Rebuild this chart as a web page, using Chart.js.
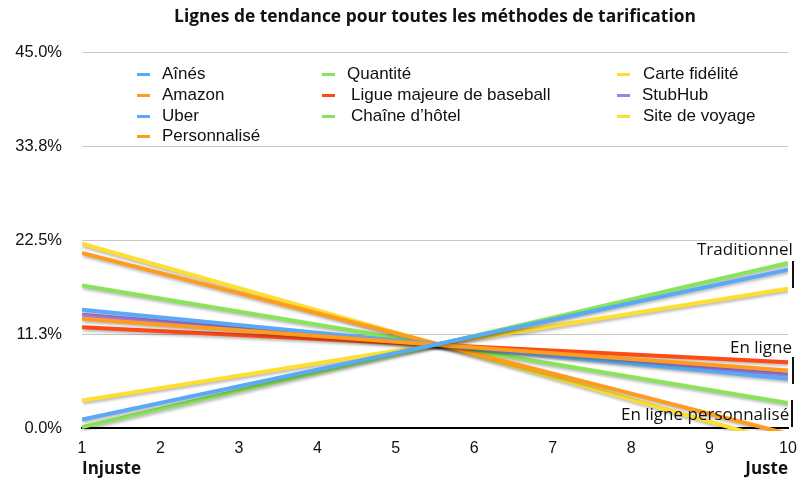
<!DOCTYPE html>
<html lang="fr">
<head>
<meta charset="utf-8">
<script src="https://cdn.jsdelivr.net/npm/chart.js@4"></script>
<style>
  html, body { margin: 0; padding: 0; background: #fff; }
  #wrap { position: relative; width: 797px; height: 480px; overflow: hidden; }
  #chart { position: absolute; left: 0; top: 0; }
  .leg { position: absolute; font: 17px "Liberation Sans", Arial, sans-serif; color: #111; white-space: nowrap; line-height: 20px; }
  .leg i { position: absolute; width: 13px; height: 3px; top: 9px; }
  .note { position: absolute; font: 17px "Open Sans", Lato, sans-serif; color: #111; white-space: nowrap; line-height: 22px; }
  .bar { position: absolute; width: 2px; background: #111; }
  .axlab { position: absolute; font: bold 17px "Open Sans", Lato, sans-serif; color: #111; line-height: 22px; }
</style>
</head>
<body>
<div id="wrap">
  <canvas id="chart" width="797" height="480"></canvas>
  <div id="legend"></div>
  <div class="note" style="left:697px; top:238px;">Traditionnel</div>
  <div class="note" style="left:730px; top:336px;">En ligne</div>
  <div class="note" style="left:621px; top:403px;">En ligne personnalisé</div>
  <div class="bar" style="left:792px; top:261px; height:27px;"></div>
  <div class="bar" style="left:792px; top:357px; height:27px;"></div>
  <div class="bar" style="left:791px; top:400px; height:27px;"></div>
  <div class="axlab" style="left:82px; top:457px;">Injuste</div>
  <div class="axlab" style="right:9px; top:457px;">Juste</div>
</div>
<script>
// lignes de tendance : valeur en x = 1 et en x = 10
const xEnds = [1, 10];
const xTicks = [1, 2, 3, 4, 5, 6, 7, 8, 9, 10];
const yTicks = [0, 11.25, 22.5, 33.75, 45];

const aines = [1.0, 19.0];
const quantite = [0.1, 19.8];
const carteFidelite = [3.3, 16.7];
const amazon = [13.1, 6.9];
const ligueBaseball = [12.1, 7.9];
const stubhub = [13.6, 6.4];
const uber = [14.2, 5.9];
const chaineHotel = [17.1, 3.0];
const personnalise = [21.0, -0.7];
const siteVoyage = [22.1, -1.9];

const BLUE = '#5aa9f6', ORANGE = '#ff9c1e', GREEN = '#88e45a',
      RED = '#ff4a16', YELLOW = '#ffdf2e', PURPLE = '#a87ce6';

// ordre de la légende (colonnes)
const series = [
  { label: 'Aînés', values: aines, color: BLUE },
  { label: 'Amazon', values: amazon, color: ORANGE },
  { label: 'Uber', values: uber, color: BLUE },
  { label: 'Personnalisé', values: personnalise, color: ORANGE },
  { label: 'Quantité', values: quantite, color: GREEN },
  { label: 'Ligue majeure de baseball', values: ligueBaseball, color: RED },
  { label: 'Chaîne d’hôtel', values: chaineHotel, color: GREEN },
  { label: 'Carte fidélité', values: carteFidelite, color: YELLOW },
  { label: 'StubHub', values: stubhub, color: PURPLE },
  { label: 'Site de voyage', values: siteVoyage, color: YELLOW },
];

// légende en 3 colonnes
const legCols = [
  { mark: 137, text: 162 },
  { mark: 322, text: 347 },
  { mark: 617, text: 643 },
];
const legRows = [64, 85, 106, 126];
const colOf = [0, 0, 0, 0, 1, 1, 1, 2, 2, 2];
const rowOf = [0, 1, 2, 3, 0, 1, 2, 0, 1, 2];
const textShift = [0, 0, 0, 0, 0, 4, 4, 0, -1, 0];
let legHtml = '';
series.forEach((s, i) => {
  const c = legCols[colOf[i]];
  const top = legRows[rowOf[i]];
  legHtml += `<div class="leg" style="left:${c.mark}px; top:${top}px; padding-left:${c.text - c.mark + textShift[i]}px;">` +
    `<i style="left:0; background:${s.color};"></i>${s.label}</div>`;
});
document.getElementById('legend').innerHTML = legHtml;

const shadow = {
  id: 'shadow',
  beforeDatasetsDraw(chart) {
    const ctx = chart.ctx;
    ctx.save();
    ctx.shadowColor = 'rgba(0,0,0,0.28)';
    ctx.shadowBlur = 3;
    ctx.shadowOffsetX = 1;
    ctx.shadowOffsetY = 2;
  },
  afterDatasetsDraw(chart) {
    chart.ctx.restore();
  }
};

new Chart(document.getElementById('chart'), {
  type: 'line',
  data: {
    datasets: series.map(s => ({
      label: s.label,
      data: xEnds.map((x, k) => ({ x, y: s.values[k] })),
      borderColor: s.color,
      backgroundColor: s.color,
      borderWidth: 4,
      pointRadius: 0,
      tension: 0,
      clip: { left: 0, top: 0, right: 0, bottom: 3 },
    }))
  },
  options: {
    responsive: false,
    animation: false,
    devicePixelRatio: 1,
    layout: { padding: { left: 0, right: 9, top: 0, bottom: 0 } },
    plugins: {
      legend: { display: false },
      tooltip: { enabled: false },
      title: {
        display: true,
        fullSize: false,
        text: 'Lignes de tendance pour toutes les méthodes de tarification',
        color: '#111',
        font: { family: '"Open Sans", Lato, sans-serif', size: 17.4, weight: 'bold' },
        padding: { top: 7, bottom: 25 },
      },
    },
    scales: {
      x: {
        type: 'linear',
        min: 1,
        max: 10,
        afterBuildTicks: scale => { scale.ticks = xTicks.map(v => ({ value: v })); },
        ticks: {
          color: '#111',
          font: { family: '"Liberation Sans", Arial, sans-serif', size: 16 },
          padding: 11,
          callback: v => String(v),
        },
        grid: { display: false, drawTicks: false },
        border: { display: true, color: '#000', width: 2 },
        afterFit: scale => {
          scale.height = 52;
          scale.paddingLeft = 0;
          scale.paddingRight = 0;
        },
      },
      y: {
        min: 0,
        max: 45,
        afterBuildTicks: scale => { scale.ticks = yTicks.map(v => ({ value: v })); },
        ticks: {
          color: '#111',
          font: { family: '"Liberation Sans", Arial, sans-serif', size: 16.5 },
          padding: 20,
          callback: v => v.toFixed(1) + '%',
        },
        grid: { color: '#c8c8c8', lineWidth: 1, drawTicks: false },
        border: { display: false },
        afterFit: scale => { scale.width = 82; },
      },
    },
  },
  plugins: [shadow],
});
</script>
</body>
</html>
